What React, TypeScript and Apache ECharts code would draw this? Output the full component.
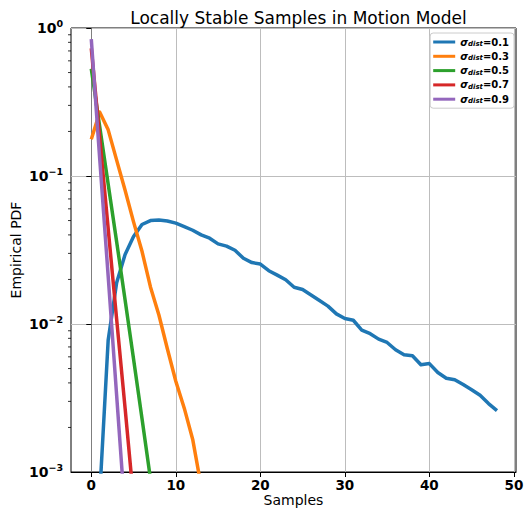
import React, { useEffect, useRef } from "react";
import * as echarts from "echarts";

const TITLE = "Locally Stable Samples in Motion Model";
const X_NAME = "Samples";
const Y_NAME = "Empirical PDF";
const X_MIN = -2.4;
const X_MAX = 50.25;
const Y_MIN = 0.001;
const Y_MAX = 1;
const X_TICKS = [0, 10, 20, 30, 40, 50];
const Y_MINOR_TICKS = [
  0.002, 0.003, 0.004, 0.005, 0.006, 0.007, 0.008, 0.009,
  0.02, 0.03, 0.04, 0.05, 0.06, 0.07, 0.08, 0.09,
  0.2, 0.3, 0.4, 0.5, 0.6, 0.7, 0.8, 0.9,
];

const SERIES_LABELS = ["0.1", "0.3", "0.5", "0.7", "0.9"];
const COLORS = ["#1f77b4", "#ff7f0e", "#2ca02c", "#d62728", "#9467bd"];

// values indexed by sample count (0, 1, 2, ...)
const SIGMA_01 = [
  null, 0.0007, 0.0078, 0.019, 0.0295, 0.039, 0.047, 0.05, 0.0505, 0.0497,
  0.048, 0.0455, 0.043, 0.04, 0.038, 0.0348, 0.0336, 0.0315, 0.0278, 0.026,
  0.0254, 0.0229, 0.0214, 0.0199, 0.0177, 0.0171, 0.0157, 0.0144, 0.0132, 0.0117,
  0.0109, 0.0106, 0.0091, 0.0086, 0.0079, 0.0075, 0.0067, 0.0062, 0.0061, 0.0053,
  0.0054, 0.0047, 0.0043, 0.0042, 0.0039, 0.0036, 0.0033, 0.0029, 0.0026,
];
const SIGMA_03 = [
  0.177, 0.27, 0.205, 0.128, 0.08, 0.049, 0.031, 0.0178, 0.0115, 0.0068,
  0.0041, 0.0027, 0.00166, 0.0008,
];
const SIGMA_05 = [0.53, 0.215, 0.088, 0.036, 0.0145, 0.0058, 0.0023, 0.0009];
const SIGMA_07 = [0.73, 0.18, 0.044, 0.0108, 0.0027, 0.00065];
const SIGMA_09 = [0.84, 0.13, 0.021, 0.0033, 0.00052];

const ALL = [SIGMA_01, SIGMA_03, SIGMA_05, SIGMA_07, SIGMA_09];

const FONT = "DejaVu Sans";

export default function App() {
  const ref = useRef<HTMLDivElement>(null);
  useEffect(() => {
    if (!ref.current) return;
    const chart = echarts.init(ref.current, null, { renderer: "svg" });
    const names = SERIES_LABELS.map((l) => "σdist=" + l);
    const lineSeries = ALL.map((vals, si) => ({
      name: names[si],
      type: "line",
      data: vals.map((v, i) => [i, v === null ? "-" : v]),
      showSymbol: false,
      symbol: "none",
      clip: true,
      lineStyle: { color: COLORS[si], width: 3.5, join: "round", cap: "butt" },
      itemStyle: { color: COLORS[si] },
      z: 2 + si,
    }));
    const minorTicks = {
      name: "minor",
      type: "custom",
      data: Y_MINOR_TICKS.map((v) => [X_MIN, v]),
      clip: false,
      silent: true,
      z: 10,
      renderItem: (params: any, api: any) => {
        const p = api.coord([api.value(0), api.value(1)]);
        return {
          type: "line",
          shape: { x1: p[0] - 3, y1: p[1], x2: p[0], y2: p[1] },
          style: { stroke: "#000", lineWidth: 0.8 },
        };
      },
    };
    chart.setOption({
      animation: false,
      backgroundColor: "#fff",
      textStyle: { fontFamily: FONT },
      title: {
        text: TITLE,
        left: 293.5,
        top: 4,
        textAlign: "center",
        textStyle: { fontFamily: FONT, fontSize: 17, fontWeight: "normal", color: "#000" },
      },
      grid: {
        left: 71,
        top: 28,
        right: 10,
        bottom: 36,
        show: true,
        borderColor: "#000",
        borderWidth: 1,
        backgroundColor: "transparent",
        outerBoundsMode: "none",
      },
      legend: {
        data: names,
        orient: "vertical",
        right: 12,
        top: 33,
        padding: [3, 5, 3, 3],
        itemGap: 2.3,
        itemWidth: 22,
        itemHeight: 3,
        icon: "rect",
        backgroundColor: "rgba(255,255,255,0.8)",
        borderColor: "#cccccc",
        borderWidth: 1,
        borderRadius: 3,
        formatter: (name: string) => {
          const v = name.replace("σdist", "");
          return "{s|σ}{d|dist}{v|" + v + "}";
        },
        textStyle: {
          fontFamily: FONT,
          color: "#000",
          lineHeight: 12,
          rich: {
            s: { fontFamily: FONT, fontStyle: "italic", fontWeight: "bold", fontSize: 10, lineHeight: 12 },
            d: { fontFamily: FONT, fontStyle: "italic", fontWeight: "bold", fontSize: 7, padding: [4, 0, 0, 0], lineHeight: 8 },
            v: { fontFamily: FONT, fontWeight: "bold", fontSize: 10, lineHeight: 12 },
          },
        },
      },
      xAxis: {
        type: "value",
        min: X_MIN,
        max: X_MAX,
        name: X_NAME,
        nameLocation: "middle",
        nameGap: 21,
        nameMoveOverlap: false,
        nameTextStyle: { fontFamily: FONT, fontSize: 14, color: "#000" },
        axisLine: { show: true, onZero: false, lineStyle: { color: "#000", width: 1 } },
        axisTick: { show: true, length: 5, customValues: X_TICKS, lineStyle: { color: "#000" } },
        axisLabel: {
          customValues: X_TICKS,
          margin: 6,
          fontFamily: FONT,
          fontSize: 13.5,
          fontWeight: "bold",
          color: "#000",
        },
        splitLine: { show: true, lineStyle: { color: "#bdbdbd", width: 1 } },
      },
      yAxis: {
        type: "log",
        logBase: 10,
        min: Y_MIN,
        max: Y_MAX,
        splitNumber: 3,
        name: Y_NAME,
        nameLocation: "middle",
        nameGap: 48,
        nameMoveOverlap: false,
        nameTextStyle: { fontFamily: FONT, fontSize: 14, color: "#000" },
        axisLine: { show: true, lineStyle: { color: "#7f7f7f", width: 1 } },
        axisTick: { show: true, length: 5, lineStyle: { color: "#000" } },
        axisLabel: {
          margin: 8,
          fontFamily: FONT,
          color: "#000",
          formatter: (value: number) => {
            const e = Math.round(Math.log10(value));
            const s = e < 0 ? "−" + -e : String(e);
            return "{b|10}{e|" + s + "}";
          },
          rich: {
            b: { fontFamily: FONT, fontSize: 14, fontWeight: "bold", color: "#000", lineHeight: 16 },
            e: { fontFamily: FONT, fontSize: 9.5, fontWeight: "bold", color: "#000", padding: [0, 0, 9, 0], lineHeight: 10 },
          },
        },
        splitLine: { show: true, lineStyle: { color: "#bdbdbd", width: 1 } },
        minorTick: { show: false },
      },
      series: [...lineSeries, minorTicks],
    });
    return () => chart.dispose();
  }, []);
  return (
    <div
      ref={ref}
      style={{ position: "fixed", left: 0, top: 0, width: 526, height: 508 }}
    />
  );
}
